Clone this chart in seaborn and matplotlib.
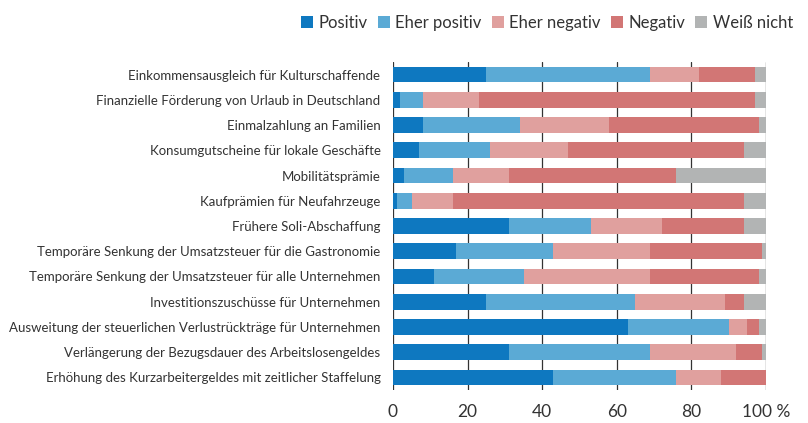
import numpy as np
import pandas as pd
import matplotlib
matplotlib.use("Agg")
import matplotlib.pyplot as plt
import seaborn as sns
from matplotlib.patches import Patch

categories = [
    "Einkommensausgleich für Kulturschaffende",
    "Finanzielle Förderung von Urlaub in Deutschland",
    "Einmalzahlung an Familien",
    "Konsumgutscheine für lokale Geschäfte",
    "Mobilitätsprämie",
    "Kaufprämien für Neufahrzeuge",
    "Frühere Soli-Abschaffung",
    "Temporäre Senkung der Umsatzsteuer für die Gastronomie",
    "Temporäre Senkung der Umsatzsteuer für alle Unternehmen",
    "Investitionszuschüsse für Unternehmen",
    "Ausweitung der steuerlichen Verlustrückträge für Unternehmen",
    "Verlängerung der Bezugsdauer des Arbeitslosengeldes",
    "Erhöhung des Kurzarbeitergeldes mit zeitlicher Staffelung",
]
positiv = [25, 2, 8, 7, 3, 1, 31, 17, 11, 25, 63, 31, 43]
eher_positiv = [44, 6, 26, 19, 13, 4, 22, 26, 24, 40, 27, 38, 33]
eher_negativ = [13, 15, 24, 21, 15, 11, 19, 26, 34, 24, 5, 23, 12]
negativ = [15, 74, 40, 47, 45, 78, 22, 30, 29, 5, 3, 7, 12]
weiss_nicht = [3, 3, 2, 6, 24, 6, 6, 1, 2, 6, 2, 1, 0]

series_names = ["Positiv", "Eher positiv", "Eher negativ", "Negativ", "Weiß nicht"]
colors = ["#0e78c0", "#5baad5", "#e0a09e", "#d27675", "#b2b4b4"]

df = pd.DataFrame({
    "Kategorie": categories,
    "Positiv": positiv,
    "Eher positiv": eher_positiv,
    "Eher negativ": eher_negativ,
    "Negativ": negativ,
    "Weiß nicht": weiss_nicht,
})

sns.set_theme(style="white")
plt.rcParams["font.family"] = ["Lato", "DejaVu Sans"]

fig = plt.figure(figsize=(8.08, 4.23), dpi=100)
ax = fig.add_axes([393 / 808, 1 - 390 / 423, 373 / 808, 328 / 423])

# stacked bars: draw cumulative totals from the longest down
cum = df[series_names].cumsum(axis=1)
for name, color in reversed(list(zip(series_names, colors))):
    sns.barplot(x=cum[name], y=df["Kategorie"], orient="h", color=color,
                width=0.62, saturation=1, ax=ax, linewidth=0)

ax.set_xlim(0, 100)
ax.set_ylim(12.5, -0.5)
ax.set_xticks([0, 20, 40, 60, 80, 100])
ax.set_xticklabels(["0", "20", "40", "60", "80", "100 %"], fontsize=12.5, color="#333333")
ax.tick_params(axis="x", length=0, pad=10)
ax.tick_params(axis="y", length=0, pad=9, labelsize=9.5, labelcolor="#333333")
ax.set_xlabel("")
ax.set_ylabel("")
ax.xaxis.grid(True, color="#333333", linewidth=0.9)
ax.set_axisbelow(True)
for s in ax.spines.values():
    s.set_visible(False)

handles = [Patch(facecolor=c, edgecolor="none", label=n) for n, c in zip(series_names, colors)]
fig.legend(handles=handles, loc="upper right", bbox_to_anchor=(1.0, 1.0), ncol=5,
           frameon=False, fontsize=12, handlelength=0.7, handleheight=0.7,
           handletextpad=0.35, columnspacing=0.6, labelcolor="#333333")

fig.savefig("out.png", dpi=100)
